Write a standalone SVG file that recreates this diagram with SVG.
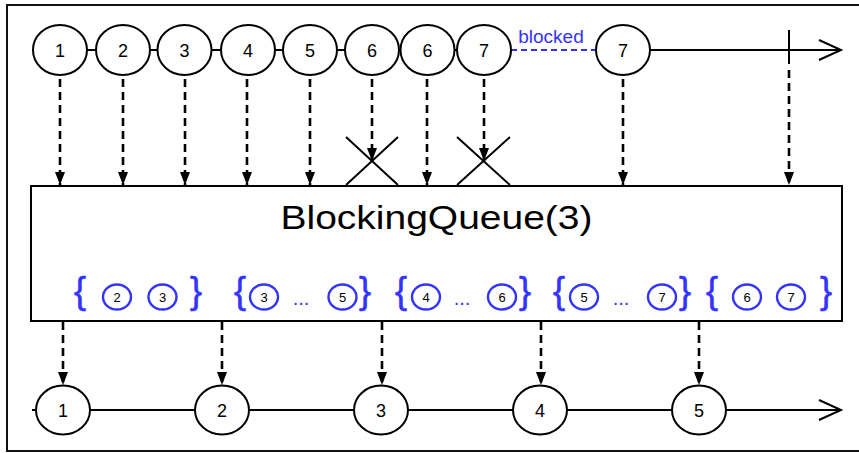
<svg xmlns="http://www.w3.org/2000/svg" width="859" height="453" viewBox="0 0 859 453">
<defs>
<style>
.ln{fill:none;stroke:#000;stroke-width:2}
.da{fill:none;stroke:#000;stroke-width:2.6;stroke-dasharray:8 5;marker-end:url(#ah)}
.nd{fill:#fff;stroke:#000;stroke-width:2}
.lb{font-family:"Liberation Sans",Arial,sans-serif;font-size:18px;fill:#000;text-anchor:middle}
.bc{fill:#fff;stroke:#3333ff;stroke-width:2.4}
.bl{font-family:"Liberation Sans",Arial,sans-serif;font-size:13px;fill:#000;text-anchor:middle}
.br{font-family:"Liberation Sans",Arial,sans-serif;font-size:36px;fill:#3333ff;stroke:#3333ff;stroke-width:0.6;text-anchor:middle}
.dt{font-family:"Liberation Sans",Arial,sans-serif;font-size:20px;fill:#3333ff;text-anchor:middle}
</style>
<marker id="ah" viewBox="0 0 13 10" refX="13" refY="5" markerWidth="13" markerHeight="10" markerUnits="userSpaceOnUse" orient="auto">
<path d="M0,0 L13,5 L0,10 z" fill="#000"/>
</marker>
</defs>
<rect x="0" y="0" width="859" height="453" fill="#fff"/>
<rect x="7" y="5" width="860" height="446" fill="none" stroke="#111" stroke-width="2"/>

<g id="connectors">
<line class="ln" x1="33" y1="50" x2="511" y2="50"/>
<line x1="511" y1="50" x2="596" y2="50" stroke="#3333ff" stroke-width="2" stroke-dasharray="6 4"/>
<line class="ln" x1="650" y1="50" x2="841" y2="50"/>
<polyline class="ln" points="819,40 841,50 819,60"/>
<line class="ln" x1="789" y1="30" x2="789" y2="64"/>
<line class="ln" x1="32" y1="410" x2="841" y2="410"/>
<polyline class="ln" points="819,400 841,410 819,420"/>
<line class="da" x1="60" y1="79" x2="60" y2="185"/>
<line class="da" x1="123" y1="79" x2="123" y2="185"/>
<line class="da" x1="185" y1="79" x2="185" y2="185"/>
<line class="da" x1="247" y1="79" x2="247" y2="185"/>
<line class="da" x1="310" y1="79" x2="310" y2="185"/>
<line class="da" x1="372" y1="79" x2="372" y2="161"/>
<line class="da" x1="427" y1="79" x2="427" y2="185"/>
<line class="da" x1="484" y1="79" x2="484" y2="161"/>
<line class="da" x1="623" y1="79" x2="623" y2="185"/>
<line class="da" x1="789" y1="70" x2="789" y2="185"/>
<line class="da" x1="63" y1="322" x2="63" y2="385"/>
<line class="da" x1="222" y1="322" x2="222" y2="385"/>
<line class="da" x1="382" y1="322" x2="382" y2="385"/>
<line class="da" x1="541" y1="322" x2="541" y2="385"/>
<line class="da" x1="699" y1="322" x2="699" y2="385"/>
<path class="ln" d="M346,137 L398,185 M398,137 L346,185"/>
<path class="ln" d="M457,137 L510,185 M510,137 L457,185"/>
</g>

<g id="top-1"><ellipse class="nd" cx="60" cy="50" rx="27" ry="25"/><text class="lb" x="60" y="56.5">1</text></g>
<g id="top-2"><ellipse class="nd" cx="123" cy="50" rx="27" ry="25"/><text class="lb" x="123" y="56.5">2</text></g>
<g id="top-3"><ellipse class="nd" cx="184.5" cy="50" rx="27" ry="25"/><text class="lb" x="184.5" y="56.5">3</text></g>
<g id="top-4"><ellipse class="nd" cx="248" cy="50" rx="27" ry="25"/><text class="lb" x="248" y="56.5">4</text></g>
<g id="top-5"><ellipse class="nd" cx="310" cy="50" rx="27" ry="25"/><text class="lb" x="310" y="56.5">5</text></g>
<g id="top-6a"><ellipse class="nd" cx="372" cy="50" rx="27" ry="25"/><text class="lb" x="372" y="56.5">6</text></g>
<g id="top-6b"><ellipse class="nd" cx="427.5" cy="50" rx="27" ry="25"/><text class="lb" x="427.5" y="56.5">6</text></g>
<g id="top-7a"><ellipse class="nd" cx="484" cy="50" rx="27" ry="25"/><text class="lb" x="484" y="56.5">7</text></g>
<g id="blocked-label"><text x="551" y="43" font-family="Liberation Sans, Arial, sans-serif" font-size="19" fill="#3333ff" text-anchor="middle">blocked</text></g>
<g id="top-7b"><ellipse class="nd" cx="623" cy="50" rx="27" ry="25"/><text class="lb" x="623" y="56.5">7</text></g>

<g id="queue">
<rect x="31" y="186" width="811" height="135" fill="#fff" stroke="#000" stroke-width="2"/>
<text x="436.5" y="229" font-family="Liberation Sans, Arial, sans-serif" font-size="34" fill="#000" text-anchor="middle" textLength="312" lengthAdjust="spacingAndGlyphs">BlockingQueue(3)</text>
</g>

<g id="state-1">
<text class="br" x="80" y="303">{</text>
<ellipse class="bc" cx="117" cy="297" rx="14" ry="12.5"/><text class="bl" x="117" y="301.5">2</text>
<ellipse class="bc" cx="162.5" cy="297" rx="14" ry="12.5"/><text class="bl" x="162.5" y="301.5">3</text>
<text class="br" x="196" y="303">}</text>
</g>
<g id="state-2">
<text class="br" x="240" y="303">{</text>
<ellipse class="bc" cx="264" cy="297" rx="14" ry="12.5"/><text class="bl" x="264" y="301.5">3</text>
<text class="dt" x="301" y="305">...</text>
<ellipse class="bc" cx="342.5" cy="297" rx="14" ry="12.5"/><text class="bl" x="342.5" y="301.5">5</text>
<text class="br" x="365" y="303">}</text>
</g>
<g id="state-3">
<text class="br" x="401" y="303">{</text>
<ellipse class="bc" cx="426" cy="297" rx="14" ry="12.5"/><text class="bl" x="426" y="301.5">4</text>
<text class="dt" x="462" y="305">...</text>
<ellipse class="bc" cx="502" cy="297" rx="14" ry="12.5"/><text class="bl" x="502" y="301.5">6</text>
<text class="br" x="525" y="303">}</text>
</g>
<g id="state-4">
<text class="br" x="559" y="303">{</text>
<ellipse class="bc" cx="584" cy="297" rx="14" ry="12.5"/><text class="bl" x="584" y="301.5">5</text>
<text class="dt" x="621" y="305">...</text>
<ellipse class="bc" cx="662" cy="297" rx="14" ry="12.5"/><text class="bl" x="662" y="301.5">7</text>
<text class="br" x="685" y="303">}</text>
</g>
<g id="state-5">
<text class="br" x="712" y="303">{</text>
<ellipse class="bc" cx="747" cy="297" rx="14" ry="12.5"/><text class="bl" x="747" y="301.5">6</text>
<ellipse class="bc" cx="791" cy="297" rx="14" ry="12.5"/><text class="bl" x="791" y="301.5">7</text>
<text class="br" x="826" y="303">}</text>
</g>

<g id="bot-1"><ellipse class="nd" cx="63" cy="410" rx="27" ry="24.5"/><text class="lb" x="63" y="416.5">1</text></g>
<g id="bot-2"><ellipse class="nd" cx="222" cy="410" rx="27" ry="24.5"/><text class="lb" x="222" y="416.5">2</text></g>
<g id="bot-3"><ellipse class="nd" cx="381" cy="410" rx="27" ry="24.5"/><text class="lb" x="381" y="416.5">3</text></g>
<g id="bot-4"><ellipse class="nd" cx="540" cy="410" rx="27" ry="24.5"/><text class="lb" x="540" y="416.5">4</text></g>
<g id="bot-5"><ellipse class="nd" cx="699" cy="410" rx="27" ry="24.5"/><text class="lb" x="699" y="416.5">5</text></g>
</svg>
